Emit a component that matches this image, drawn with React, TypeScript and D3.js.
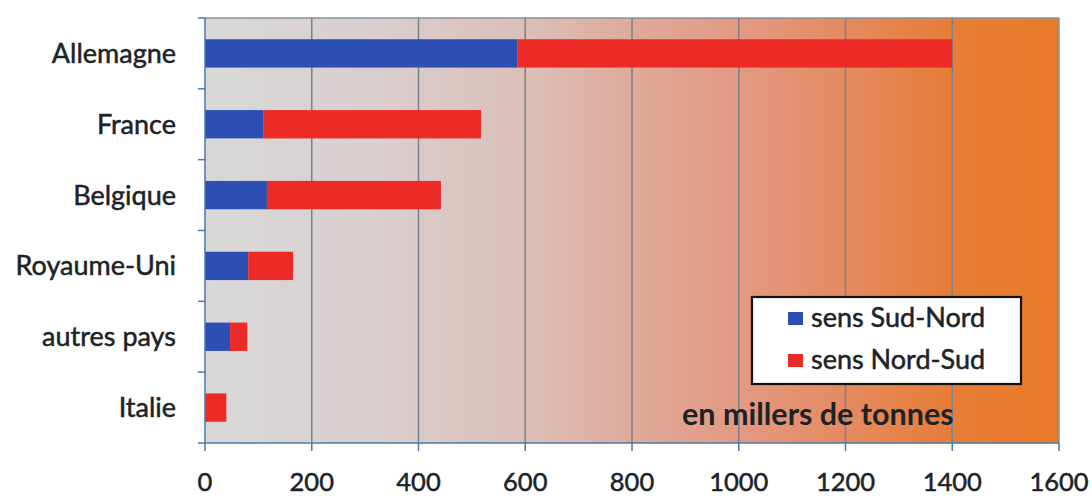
import React from "react";
import * as d3 from "d3";

const categories = ["Allemagne", "France", "Belgique", "Royaume-Uni", "autres pays", "Italie"];
const sudNord = [585, 109, 116, 81, 47, 0];
const nordSud = [815, 408, 326, 84, 32, 40];
const xTicks = [0, 200, 400, 600, 800, 1000, 1200, 1400, 1600];
const seriesNames = ["sens Sud-Nord", "sens Nord-Sud"];
const seriesColors = ["#2d4fb4", "#ec2a26"];

const W = 1092, H = 496;
const M = { left: 205, right: 1059, top: 18, bottom: 443 };

export default function App() {
  const x = d3.scaleLinear().domain([0, 1600]).range([M.left, M.right]);
  const y = d3.scaleBand().domain(categories).range([M.top, M.bottom]).paddingInner(0.6).paddingOuter(0.3);
  const band = d3.scaleBand().domain(categories).range([M.top, M.bottom]);
  const font = "Lato, 'Open Sans', sans-serif";
  const ink = "#1c2328";
  const txtStyle = { stroke: ink, strokeWidth: 0.5 } as React.CSSProperties;
  const stacked = categories.map((c, i) => [
    { x0: 0, x1: sudNord[i], color: seriesColors[0] },
    { x0: sudNord[i], x1: sudNord[i] + nordSud[i], color: seriesColors[1] },
  ]);
  return (
    <svg width={W} height={H} style={{ position: "absolute", left: 0, top: 0, background: "#fff" }}>
      <defs>
        <linearGradient id="bg" x1="0" x2="1" y1="0" y2="0">
          <stop offset="0%" stopColor="#d8d8d8" />
          <stop offset="20%" stopColor="#dacfcf" />
          <stop offset="38%" stopColor="#dcbfb7" />
          <stop offset="50%" stopColor="#dfaa9b" />
          <stop offset="62%" stopColor="#e39a84" />
          <stop offset="75%" stopColor="#e58a60" />
          <stop offset="87%" stopColor="#e77d38" />
          <stop offset="100%" stopColor="#e97a27" />
        </linearGradient>
      </defs>
      <rect x={M.left} y={M.top} width={M.right - M.left} height={M.bottom - M.top} fill="url(#bg)" />
      {xTicks.slice(1, -1).map((t) => (
        <line key={t} x1={x(t)} x2={x(t)} y1={M.top} y2={M.bottom} stroke="#77828a" strokeWidth={1.5} />
      ))}
      <line x1={M.left} x2={M.right} y1={M.top} y2={M.top} stroke="#8a8f98" strokeWidth={1.5} />
      <line x1={M.right} x2={M.right} y1={M.top} y2={M.bottom} stroke="#8a8f98" strokeWidth={1.5} />
      {stacked.map((segs, i) =>
        segs.map((s, j) =>
          s.x1 > s.x0 ? (
            <rect key={i + "-" + j} x={x(s.x0)} y={y(categories[i])!} width={x(s.x1) - x(s.x0)} height={y.bandwidth()} fill={s.color} />
          ) : null
        )
      )}
      <line x1={M.left} x2={M.left} y1={M.top} y2={M.bottom} stroke="#4a7aa8" strokeWidth={1.5} />
      <line x1={M.left} x2={M.right} y1={M.bottom} y2={M.bottom} stroke="#4a7aa8" strokeWidth={1.5} />
      {categories.map((c, i) => (
        <line key={"yt" + i} x1={M.left - 7} x2={M.left} y1={band(c)!} y2={band(c)!} stroke="#4a7aa8" strokeWidth={1.5} />
      ))}
      <line x1={M.left - 7} x2={M.left} y1={M.bottom} y2={M.bottom} stroke="#4a7aa8" strokeWidth={1.5} />
      {xTicks.map((t) => (
        <line key={"xt" + t} x1={x(t)} x2={x(t)} y1={M.bottom} y2={M.bottom + 8} stroke="#4a7aa8" strokeWidth={1.5} />
      ))}
      {categories.map((c) => (
        <text key={"lab" + c} x={176} y={y(c)! + y.bandwidth() / 2} dy="0.35em" textAnchor="end" fontFamily={font} fontSize={27} fill={ink} style={txtStyle}>
          {c}
        </text>
      ))}
      {xTicks.map((t) => (
        <text key={"xl" + t} x={x(t)} y={491} textAnchor="middle" fontFamily={font} fontSize={25.5} fill={ink} style={txtStyle}>
          {t}
        </text>
      ))}
      <g>
        <rect x={752} y={297} width={269} height={87} fill="#fff" stroke="#111" strokeWidth={2.2} />
        {seriesNames.map((n, i) => (
          <g key={n}>
            <rect x={788} y={312 + i * 42} width={15} height={13} fill={seriesColors[i]} />
            <text x={811} y={327 + i * 42} fontFamily={font} fontSize={27} fill={ink} style={txtStyle}>
              {n}
            </text>
          </g>
        ))}
      </g>
      <text x={682} y={425} fontFamily={font} fontSize={30.5} fontWeight="bold" fill={ink}>
        en millers de tonnes
      </text>
    </svg>
  );
}
